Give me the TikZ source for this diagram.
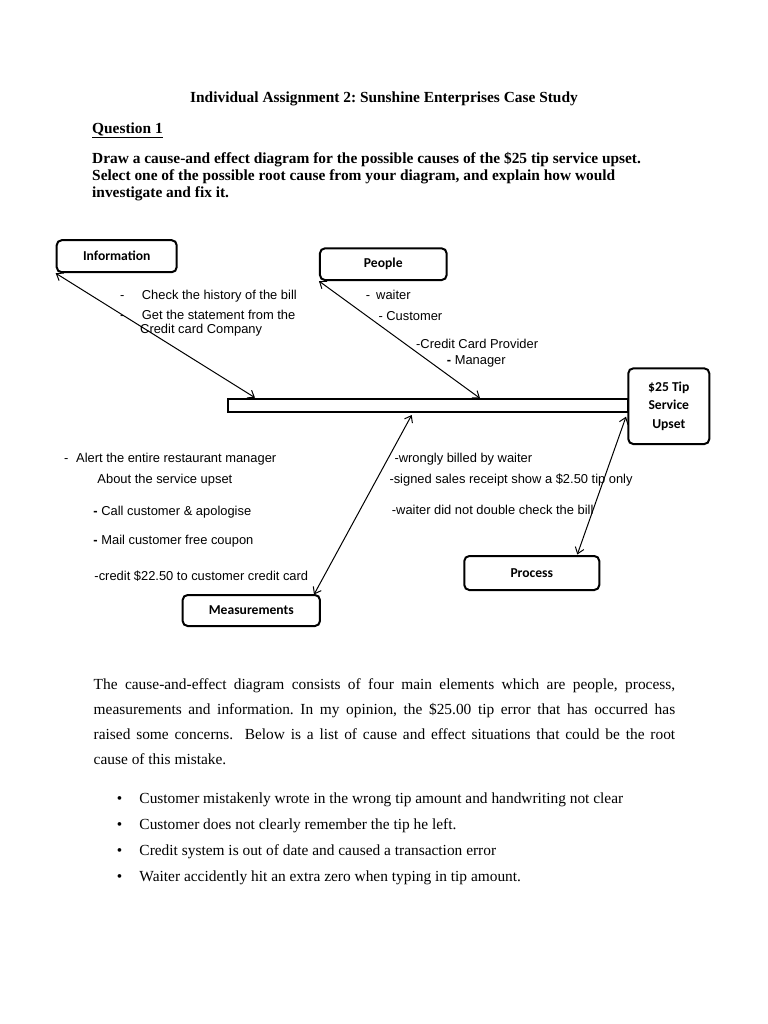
\documentclass[tikz,border=0pt]{standalone}
\usepackage{fontspec}
\setmainfont{Liberation Serif}
\newfontfamily\arialf{Liberation Sans}
\newfontfamily\calf{Carlito}
\usetikzlibrary{arrows.meta}
\frenchspacing
\begin{document}
\begin{tikzpicture}[x=1bp,y=-1bp,
  lbox/.style={draw, line width=2bp, rounded corners=5bp, inner sep=0pt, align=center,
    font=\calf\bfseries\fontsize{13.6bp}{18.3bp}\selectfont},
  dtxt/.style={anchor=base west, inner sep=0pt, font=\arialf\fontsize{12.9bp}{15bp}\selectfont},
  btxt/.style={anchor=base west, inner sep=0pt, font=\fontsize{15.4bp}{18bp}\selectfont},
  conn/.style={line width=1bp, {Straight Barb[length=6bp,width=9bp]}-{Straight Barb[length=6bp,width=9bp]}}
]
\useasboundingbox[fill=white] (0,0) rectangle (768,1024);

% heading
\node[btxt, anchor=base] (title) at (384,102) {\bfseries Individual Assignment 2: Sunshine Enterprises Case Study};
\node[btxt] (q1) at (92,133) {\bfseries\underline{Question 1}};
\node[btxt] (d1) at (92,163) {\bfseries Draw a cause-and effect diagram for the possible causes of the \$25 tip service upset.};
\node[btxt] (d2) at (92,180) {\bfseries Select one of the possible root cause from your diagram, and explain how would};
\node[btxt] (d3) at (92,197) {\bfseries investigate and fix it.};

% diagram boxes
\node[lbox, minimum width=120bp, minimum height=32bp] (info) at (116.7,256.2) {Information};
\node[lbox, minimum width=126.7bp, minimum height=31.7bp] (people) at (383.3,264.2) {People};
\node[lbox, minimum width=81bp, minimum height=75.7bp] (effect) at (668.8,406.2) {\$25 Tip\\Service\\Upset};
\node[lbox, minimum width=137.3bp, minimum height=31bp] (meas) at (251.3,610.5) {Measurements};
\node[lbox, minimum width=135bp, minimum height=34bp] (process) at (531.8,573) {Process};
\node[draw, line width=2bp, minimum width=400bp, minimum height=12.7bp, inner sep=0pt] (spine) at (428.3,405.3) {};

% connector ends on the spine / boxes
\coordinate (sI) at (255,397.7);
\coordinate (sP) at (480,398.3);
\coordinate (sM) at (411.7,415);
\coordinate (eM) at (314,594.5);
\coordinate (sR) at (626,416.7);
\coordinate (eR) at (577.3,554.5);

\draw[conn] (info.south west) -- (sI);
\draw[conn] (people.south west) -- (sP);
\draw[conn] (sM) -- (eM);
\draw[conn] (sR) -- (eR);

% information branch texts
\node[dtxt] (i1) at (120,299.5) {\makebox[21.7bp][l]{-}Check the history of the bill};
\node[dtxt] (i2) at (120,319.5) {\makebox[21.7bp][l]{-}Get the statement from the};
\node[dtxt] (i3) at (140,333.5) {Credit card Company};

% people branch texts
\node[dtxt] (p1) at (365.7,299.5) {\makebox[10.3bp][l]{-}waiter};
\node[dtxt] (p2) at (378.3,320) {- Customer};
\node[dtxt] (p3) at (416,348) {-Credit Card Provider};
\node[dtxt] (p4) at (446.7,364.5) {\textbf{-} Manager};

% measurement texts
\node[dtxt] (m1) at (64,462) {\makebox[12bp][l]{-}Alert the entire restaurant manager};
\node[dtxt] (m2) at (97.3,483) {About the service upset};
\node[dtxt] (m3) at (93.3,515) {\textbf{-} Call customer \& apologise};
\node[dtxt] (m4) at (93.3,544.5) {\textbf{-} Mail customer free coupon};
\node[dtxt] (m5) at (94.3,580) {-credit \$22.50 to customer credit card};

% process texts
\node[dtxt] (r1) at (394.3,462) {-wrongly billed by waiter};
\node[dtxt] (r2) at (389.3,483) {-signed sales receipt show a \$2.50 tip only};
\node[dtxt] (r3) at (391.7,514.5) {-waiter did not double check the bill};

% body paragraph
\node[btxt] (b1) at (93.5,689) {\makebox[581.5bp][s]{The cause-and-effect diagram consists of four main elements which are people, process,}};
\node[btxt] (b2) at (93.5,714.3) {\makebox[581.5bp][s]{measurements and information. In my opinion, the \$25.00 tip error that has occurred has}};
\node[btxt] (b3) at (93.5,739.3) {\makebox[581.5bp][s]{raised some concerns.\ \ Below is a list of cause and effect situations that could be the root}};
\node[btxt] (b4) at (93.5,764.3) {cause of this mistake.};

% bullets
\node[btxt] (l1) at (116.7,803.3) {\makebox[22.6bp][l]{\textbullet}Customer mistakenly wrote in the wrong tip amount and handwriting not clear};
\node[btxt] (l2) at (116.7,829.3) {\makebox[22.6bp][l]{\textbullet}Customer does not clearly remember the tip he left.};
\node[btxt] (l3) at (116.7,855.7) {\makebox[22.6bp][l]{\textbullet}Credit system is out of date and caused a transaction error};
\node[btxt] (l4) at (116.7,881) {\makebox[22.6bp][l]{\textbullet}Waiter accidently hit an extra zero when typing in tip amount.};
\end{tikzpicture}
\end{document}
